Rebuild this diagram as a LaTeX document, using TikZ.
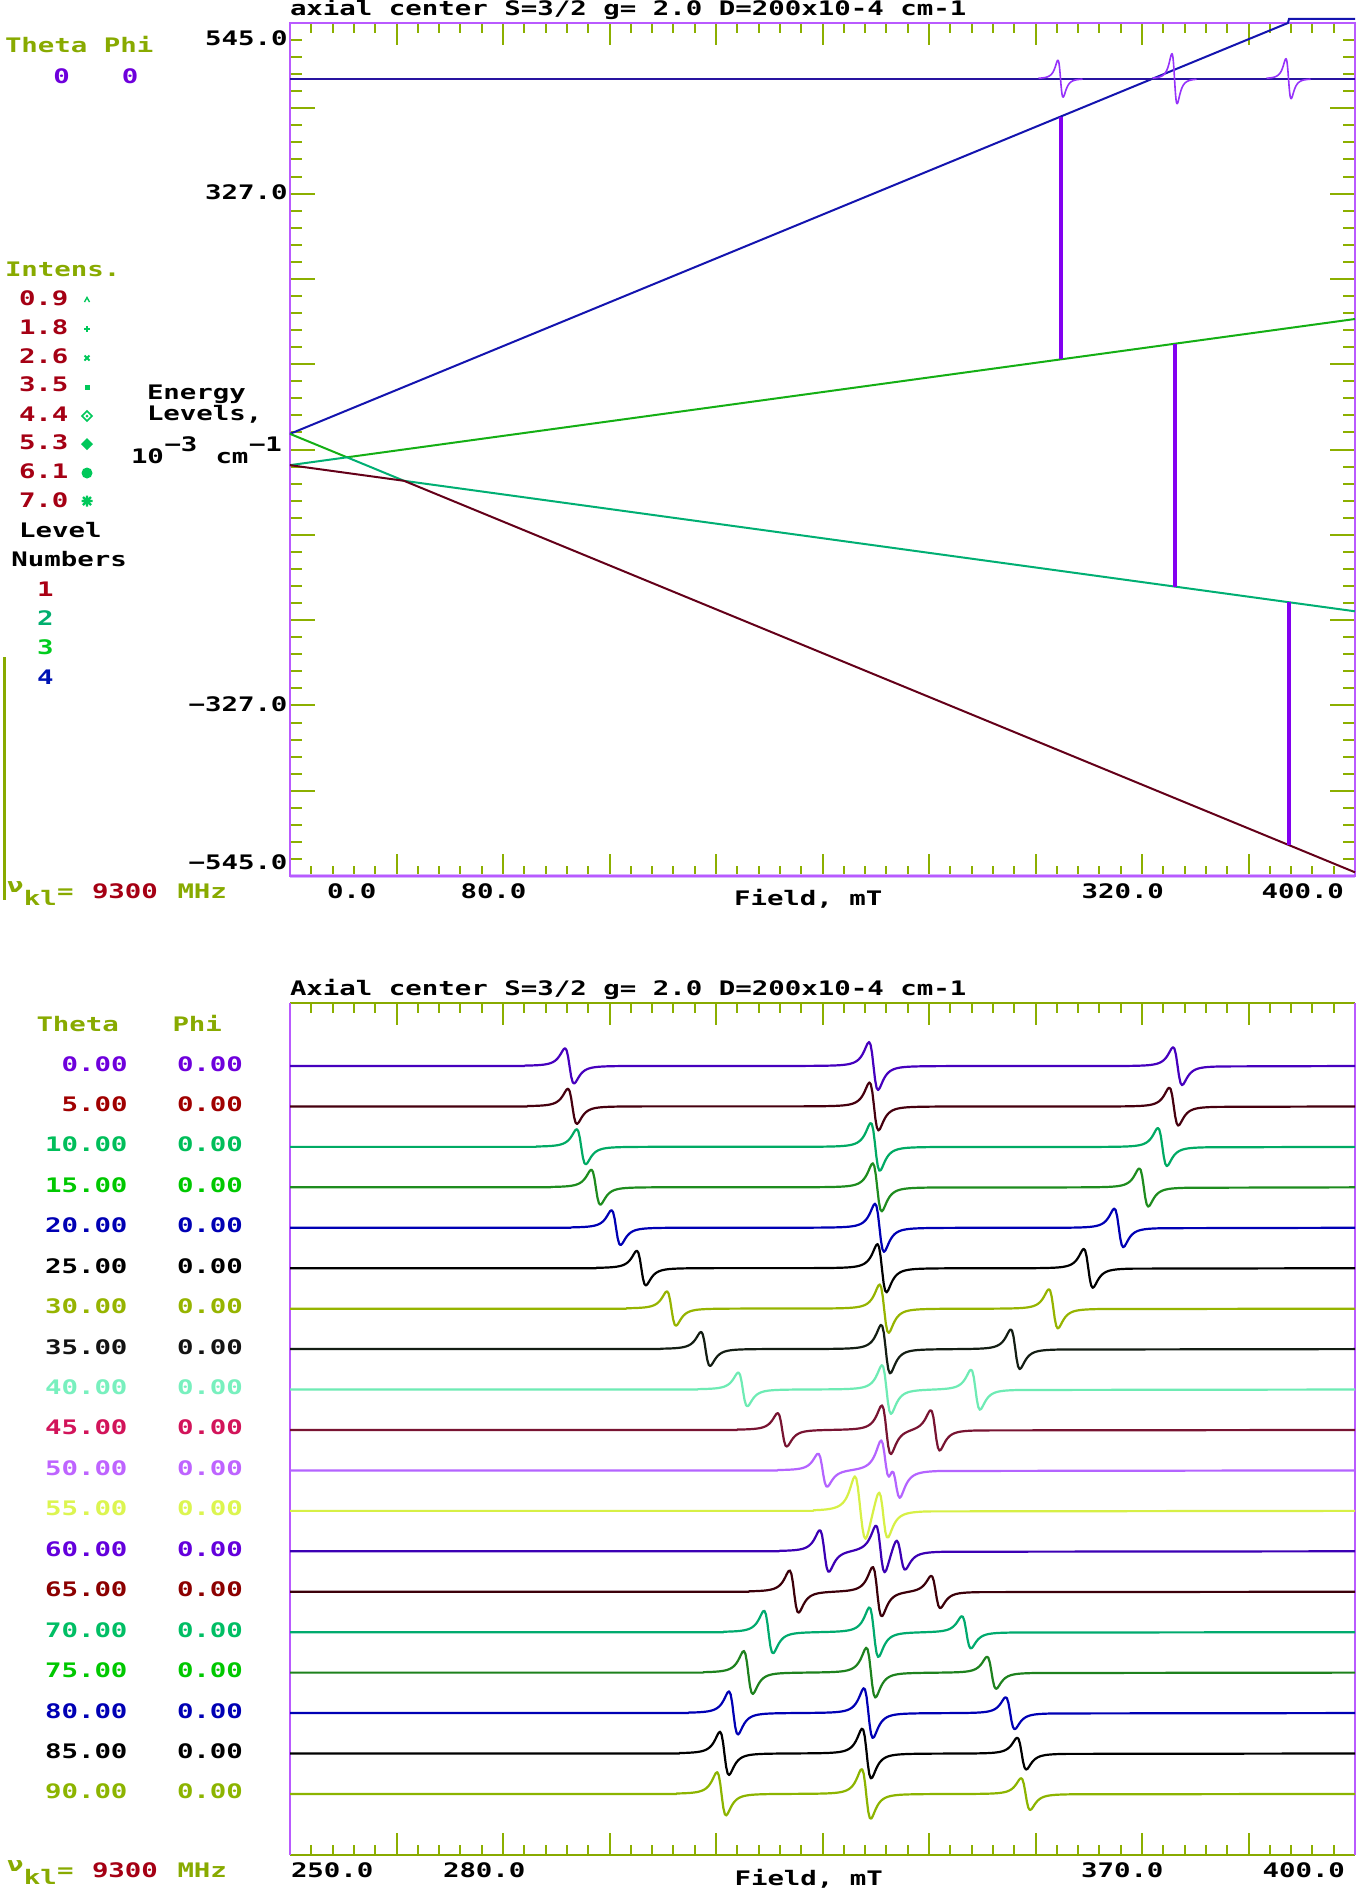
\documentclass[tikz,border=0pt]{standalone}
\usepackage{fontspec}
\usepackage{graphicx}
\setmonofont{DejaVu Sans Mono}
\newcommand\sq[1]{\scalebox{1}[0.73]{#1}}
\definecolor{olv}{RGB}{136,170,0}
\definecolor{tickc}{RGB}{140,175,0}
\definecolor{frm}{RGB}{185,90,255}
\definecolor{lav}{RGB}{215,180,255}
\definecolor{dred}{RGB}{165,0,20}
\definecolor{vio}{RGB}{110,0,220}
\definecolor{gsym}{RGB}{0,200,90}
\definecolor{lvA}{RGB}{100,0,25}
\definecolor{lvB}{RGB}{0,175,115}
\definecolor{lvC}{RGB}{20,175,20}
\definecolor{lvD}{RGB}{20,20,175}
\definecolor{nA}{RGB}{170,0,20}
\definecolor{nB}{RGB}{0,175,110}
\definecolor{nC}{RGB}{0,205,30}
\definecolor{nD}{RGB}{0,20,180}
\definecolor{trn}{RGB}{130,0,240}
\definecolor{spb}{RGB}{40,20,160}
\definecolor{spk}{RGB}{150,50,250}
% row label colours
\definecolor{la0}{RGB}{110,0,220}
\definecolor{la1}{RGB}{160,0,0}
\definecolor{la2}{RGB}{0,190,90}
\definecolor{la3}{RGB}{0,200,0}
\definecolor{la4}{RGB}{0,0,180}
\definecolor{la5}{RGB}{0,0,0}
\definecolor{la6}{RGB}{150,180,0}
\definecolor{la7}{RGB}{20,20,20}
\definecolor{la8}{RGB}{120,240,190}
\definecolor{la9}{RGB}{210,20,90}
\definecolor{la10}{RGB}{190,100,255}
\definecolor{la11}{RGB}{220,245,80}
\definecolor{la12}{RGB}{100,0,220}
\definecolor{la13}{RGB}{140,0,0}
\definecolor{la14}{RGB}{0,190,100}
\definecolor{la15}{RGB}{0,200,0}
\definecolor{la16}{RGB}{0,0,180}
\definecolor{la17}{RGB}{0,0,0}
\definecolor{la18}{RGB}{140,180,0}
% row curve colours
\definecolor{cu0}{RGB}{70,0,190}
\definecolor{cu1}{RGB}{70,0,15}
\definecolor{cu2}{RGB}{0,170,100}
\definecolor{cu3}{RGB}{30,140,30}
\definecolor{cu4}{RGB}{0,0,180}
\definecolor{cu5}{RGB}{0,0,0}
\definecolor{cu6}{RGB}{150,180,0}
\definecolor{cu7}{RGB}{20,30,20}
\definecolor{cu8}{RGB}{110,235,180}
\definecolor{cu9}{RGB}{120,20,50}
\definecolor{cu10}{RGB}{180,100,255}
\definecolor{cu11}{RGB}{215,240,70}
\definecolor{cu12}{RGB}{60,0,180}
\definecolor{cu13}{RGB}{60,0,10}
\definecolor{cu14}{RGB}{0,170,110}
\definecolor{cu15}{RGB}{30,130,30}
\definecolor{cu16}{RGB}{0,0,180}
\definecolor{cu17}{RGB}{0,0,0}
\definecolor{cu18}{RGB}{140,180,0}
\begin{document}
\begin{tikzpicture}[x=0.5pt,y=-0.5pt,
  tx/.style={inner sep=0pt,outer sep=0pt,font=\ttfamily\bfseries\fontsize{13.7pt}{16pt}\selectfont},
  tk/.style={draw=tickc,line width=1pt},
  curve/.style={line width=1.1pt,line join=round},
  declare function={cl(\u)=max(-10,min(10,\u)); ld(\u)=3.0792*cl(\u)/((1+cl(\u)*cl(\u))*(1+cl(\u)*cl(\u)));}]
\useasboundingbox (0,0) rectangle (1358,1889);
\fill[white] (0,0) rectangle (1358,1889);

% ---------------- ticks ----------------
\foreach \j in {1,...,49}{
  \pgfmathsetmacro\tx{290+21.3*\j}
  \pgfmathsetmacro\tl{ifthenelse(mod(\j,5)==0,22,10)}
  \draw[tk] (\tx,23) -- ++(0,\tl);
  \draw[tk] (\tx,876) -- ++(0,-\tl);
  \draw[tk] (\tx,1003) -- ++(0,\tl);
  \draw[tk] (\tx,1855) -- ++(0,-\tl);
}
\foreach \k in {0,...,48}{
  \pgfmathsetmacro\ty{40+17.0625*\k}
  \pgfmathsetmacro\tl{ifthenelse(mod(\k,5)==4,25,12)}
  \draw[tk] (290,\ty) -- ++(\tl,0);
  \draw[tk] (1355,\ty) -- ++(-\tl,0);
}

% ---------------- frames ----------------
\draw[lav,line width=2pt] (290,876) -- (1355,876);
\draw[frm,line width=1pt] (290,23) rectangle (1355,876);
\draw[olv,line width=1pt] (290,1003) -- (1355,1003);
\draw[olv,line width=1pt] (290,1855) -- (1355,1855);
\draw[frm,line width=1pt] (290,1003) -- (290,1855);
\draw[frm,line width=1pt] (1355,1003) -- (1355,1855);
\draw[olv,line width=1.5pt] (4,657) -- (4,900);

% ---------------- energy levels ----------------
\draw[lvD,line width=1pt] (290,433.85) -- (1287.9,23) -- (1289,19) -- (1355,19);
\draw[lvC,line width=1pt] (290,433.85) -- (347,457.3) -- (1355,319.0);
\draw[lvB,line width=1pt] (290,465.15) -- (347,457.3) -- (404,480.8) -- (1355,611.3);
\draw[lvA,line width=1pt] (290,465.15) -- (404,480.8) -- (1355,872.3);

% transitions
\draw[trn,line width=2pt] (1060.5,116.6) -- (1060.5,359.4);
\draw[trn,line width=2pt] (1174.5,343.8) -- (1174.5,586.5);
\draw[trn,line width=2pt] (1288.5,602.2) -- (1288.5,845.0);

% top spectrum
\draw[spb,line width=1pt] (290,78.7) -- (1355,78.7);
\foreach \xc/\am in {1060.5/18.5,1174.5/25,1288.5/20}{
  \pgfmathsetmacro\da{\xc-22}
  \pgfmathsetmacro\db{\xc+22}
  \draw[spk,curve,line width=0.8pt] plot[domain=\da:\db,samples=89] (\x,{78.7+\am*ld((\x-\xc)/4.5)});
}

% ---------------- angular spectra ----------------
\foreach \k/\tl/\xa/\xb/\xc in {
 0/0.00/569.5/873.5/1177.6, 1/5.00/572.4/874.0/1173.8, 2/10.00/581.2/875.3/1162.4,
 3/15.00/595.8/877.2/1143.8, 4/20.00/616.0/879.5/1118.8, 5/25.00/641.3/881.9/1088.3,
 6/30.00/671.4/884.1/1053.4, 7/35.00/705.5/885.7/1015.3, 8/40.00/742.8/886.5/975.5,
 9/45.00/782.2/886.3/935.2, 10/50.00/822.6/885.2/895.8, 11/55.00/862.5/883.2/858.5,
 12/60.00/900.7/880.4/824.3, 13/65.00/935.7/877.2/794.0, 14/70.00/966.4/873.9/768.5,
 15/75.00/991.6/870.9/748.2, 16/80.00/1010.2/868.4/733.4, 17/85.00/1021.7/866.7/724.4,
 18/90.00/1025.6/866.2/721.5}{
  \pgfmathsetmacro\ss{sin(5*\k)^2}
  \pgfmathsetmacro\Aa{17.7-1.7*\ss}
  \pgfmathsetmacro\Ab{24+1.0*\ss}
  \pgfmathsetmacro\Ac{19+2.7*\ss}
  \pgfmathsetmacro\yb{1066+40.44*\k}
  \pgfmathsetmacro\lo{min(\xa,\xb,\xc)-45}
  \pgfmathsetmacro\hi{max(\xa,\xb,\xc)+45}
  \pgfmathtruncatemacro\ns{(\hi-\lo)/1.5}
  \draw[color=cu\k,curve] (290,\yb) -- (\lo,\yb) -- plot[domain=\lo:\hi,samples=\ns]
     (\x,{\yb+\Aa*ld((\x-\xa)/7.8)+\Ab*ld((\x-\xb)/7.8)+\Ac*ld((\x-\xc)/7.8)}) -- (1355,\yb);
  \pgfmathsetmacro\yl{1071+40.44*\k}
  \node[tx,anchor=base east,text=la\k] (th\k) at (127.5,\yl) {\sq{\tl}};
  \node[tx,anchor=base west,text=la\k] (ph\k) at (177,\yl) {\sq{0.00}};
}

% ---------------- texts: top panel ----------------
\node[tx,anchor=base west] (title1) at (290,16) {\sq{axial center S=3/2 g= 2.0 D=200x10-4 cm-1}};
\node[tx,anchor=base west,text=olv] (thph1) at (5,52.3) {\sq{Theta Phi}};
\node[tx,anchor=base west,text=vio] (tz1) at (53.5,84) {\sq{0}};
\node[tx,anchor=base west,text=vio] (pz1) at (121.8,84) {\sq{0}};
\node[tx,anchor=base west,text=olv] (intens) at (5,276) {\sq{Intens.}};
\foreach \v/\yy [count=\i] in {0.9/305,1.8/334,2.6/363.3,3.5/391.7,4.4/421,5.3/449.3,6.1/478.3,7.0/507.7}{
  \node[tx,anchor=base west,text=dred] (iv\i) at (19,\yy) {\sq{\v}};
}
% intensity marks
\draw[gsym,line width=0.7pt] (84.5,302) -- (87,297.5) -- (89.5,302);
\draw[gsym,line width=1pt] (84,329) -- (90,329) (87,326) -- (87,332);
\draw[gsym,line width=1pt] (84.5,355.5) -- (89.5,360.5) (84.5,360.5) -- (89.5,355.5);
\fill[gsym] (84.5,384.5) rectangle (89.5,389.5);
\draw[gsym,line width=0.8pt] (82,416) -- (87,411) -- (92,416) -- (87,421) -- cycle;
\fill[gsym] (87,416) circle (1.5);
\fill[gsym] (81,444) -- (87,438) -- (93,444) -- (87,450) -- cycle;
\fill[gsym] (87,473) circle (5.5);
\draw[gsym,line width=1.2pt] (81.5,501) -- (92.5,501) (87,495.5) -- (87,506.5)
   (83,497) -- (91,505) (83,505) -- (91,497);
\node[tx,anchor=base west] (level) at (19.2,537.3) {\sq{Level}};
\node[tx,anchor=base west] (numbers) at (11.3,566.7) {\sq{Numbers}};
\node[tx,anchor=base west,text=nA] (n1) at (37,596.6) {\sq{1}};
\node[tx,anchor=base west,text=nB] (n2) at (37,625) {\sq{2}};
\node[tx,anchor=base west,text=nC] (n3) at (37,654) {\sq{3}};
\node[tx,anchor=base west,text=nD] (n4) at (37,684) {\sq{4}};
\node[tx,anchor=base west] (energy) at (147,399.3) {\sq{Energy}};
\node[tx,anchor=base west] (levels) at (147,420.7) {\sq{Levels,}};
\node[tx,anchor=base west] (ten) at (131,463.3) {\sq{10}};
\node[tx,anchor=base west] (mthree) at (164.5,451.7) {\sq{−3}};
\node[tx,anchor=base west] (cm) at (215.5,463.3) {\sq{cm}};
\node[tx,anchor=base west] (mone) at (249,451.7) {\sq{−1}};
\node[tx,anchor=base east] (y1) at (287.5,45.7) {\sq{545.0}};
\node[tx,anchor=base east] (y2) at (287.5,199) {\sq{327.0}};
\node[tx,anchor=base east] (y3) at (287.5,711.7) {\sq{−327.0}};
\node[tx,anchor=base east] (y4) at (287.5,869) {\sq{−545.0}};
\node[tx,anchor=base west] (xa1) at (327,898.3) {\sq{0.0}};
\node[tx,anchor=base west] (xa2) at (460.5,898.3) {\sq{80.0}};
\node[tx,anchor=base west] (fld1) at (734,905) {\sq{Field, mT}};
\node[tx,anchor=base west] (xa3) at (1081.5,898.3) {\sq{320.0}};
\node[tx,anchor=base west] (xa4) at (1261.5,898.3) {\sq{400.0}};
\node[tx,anchor=base west,text=olv] (nu1) at (7,892) {\sq{ν}};
\node[tx,anchor=base west,text=olv] (kl1) at (24,905) {\sq{kl}};
\node[tx,anchor=base west,text=olv] (eq1) at (57,898.3) {\sq{=}};
\node[tx,anchor=base west,text=dred] (fr1) at (92,898.3) {\sq{9300}};
\node[tx,anchor=base west,text=olv] (mhz1) at (177.5,898.3) {\sq{MHz}};

% ---------------- texts: bottom panel ----------------
\node[tx,anchor=base west] (title2) at (290,995) {\sq{Axial center S=3/2 g= 2.0 D=200x10-4 cm-1}};
\node[tx,anchor=base west,text=olv] (theta2) at (36.5,1031) {\sq{Theta}};
\node[tx,anchor=base west,text=olv] (phi2) at (172.5,1031) {\sq{Phi}};
\node[tx,anchor=base west] (xb1) at (291,1877.3) {\sq{250.0}};
\node[tx,anchor=base west] (xb2) at (443,1877.3) {\sq{280.0}};
\node[tx,anchor=base west] (fld2) at (734.5,1885) {\sq{Field, mT}};
\node[tx,anchor=base west] (xb3) at (1081,1877.3) {\sq{370.0}};
\node[tx,anchor=base west] (xb4) at (1262.5,1877.3) {\sq{400.0}};
\node[tx,anchor=base west,text=olv] (nu2) at (7,1871) {\sq{ν}};
\node[tx,anchor=base west,text=olv] (kl2) at (24,1884) {\sq{kl}};
\node[tx,anchor=base west,text=olv] (eq2) at (57,1877.3) {\sq{=}};
\node[tx,anchor=base west,text=dred] (fr2) at (92,1877.3) {\sq{9300}};
\node[tx,anchor=base west,text=olv] (mhz2) at (177.5,1877.3) {\sq{MHz}};
\end{tikzpicture}
\end{document}
